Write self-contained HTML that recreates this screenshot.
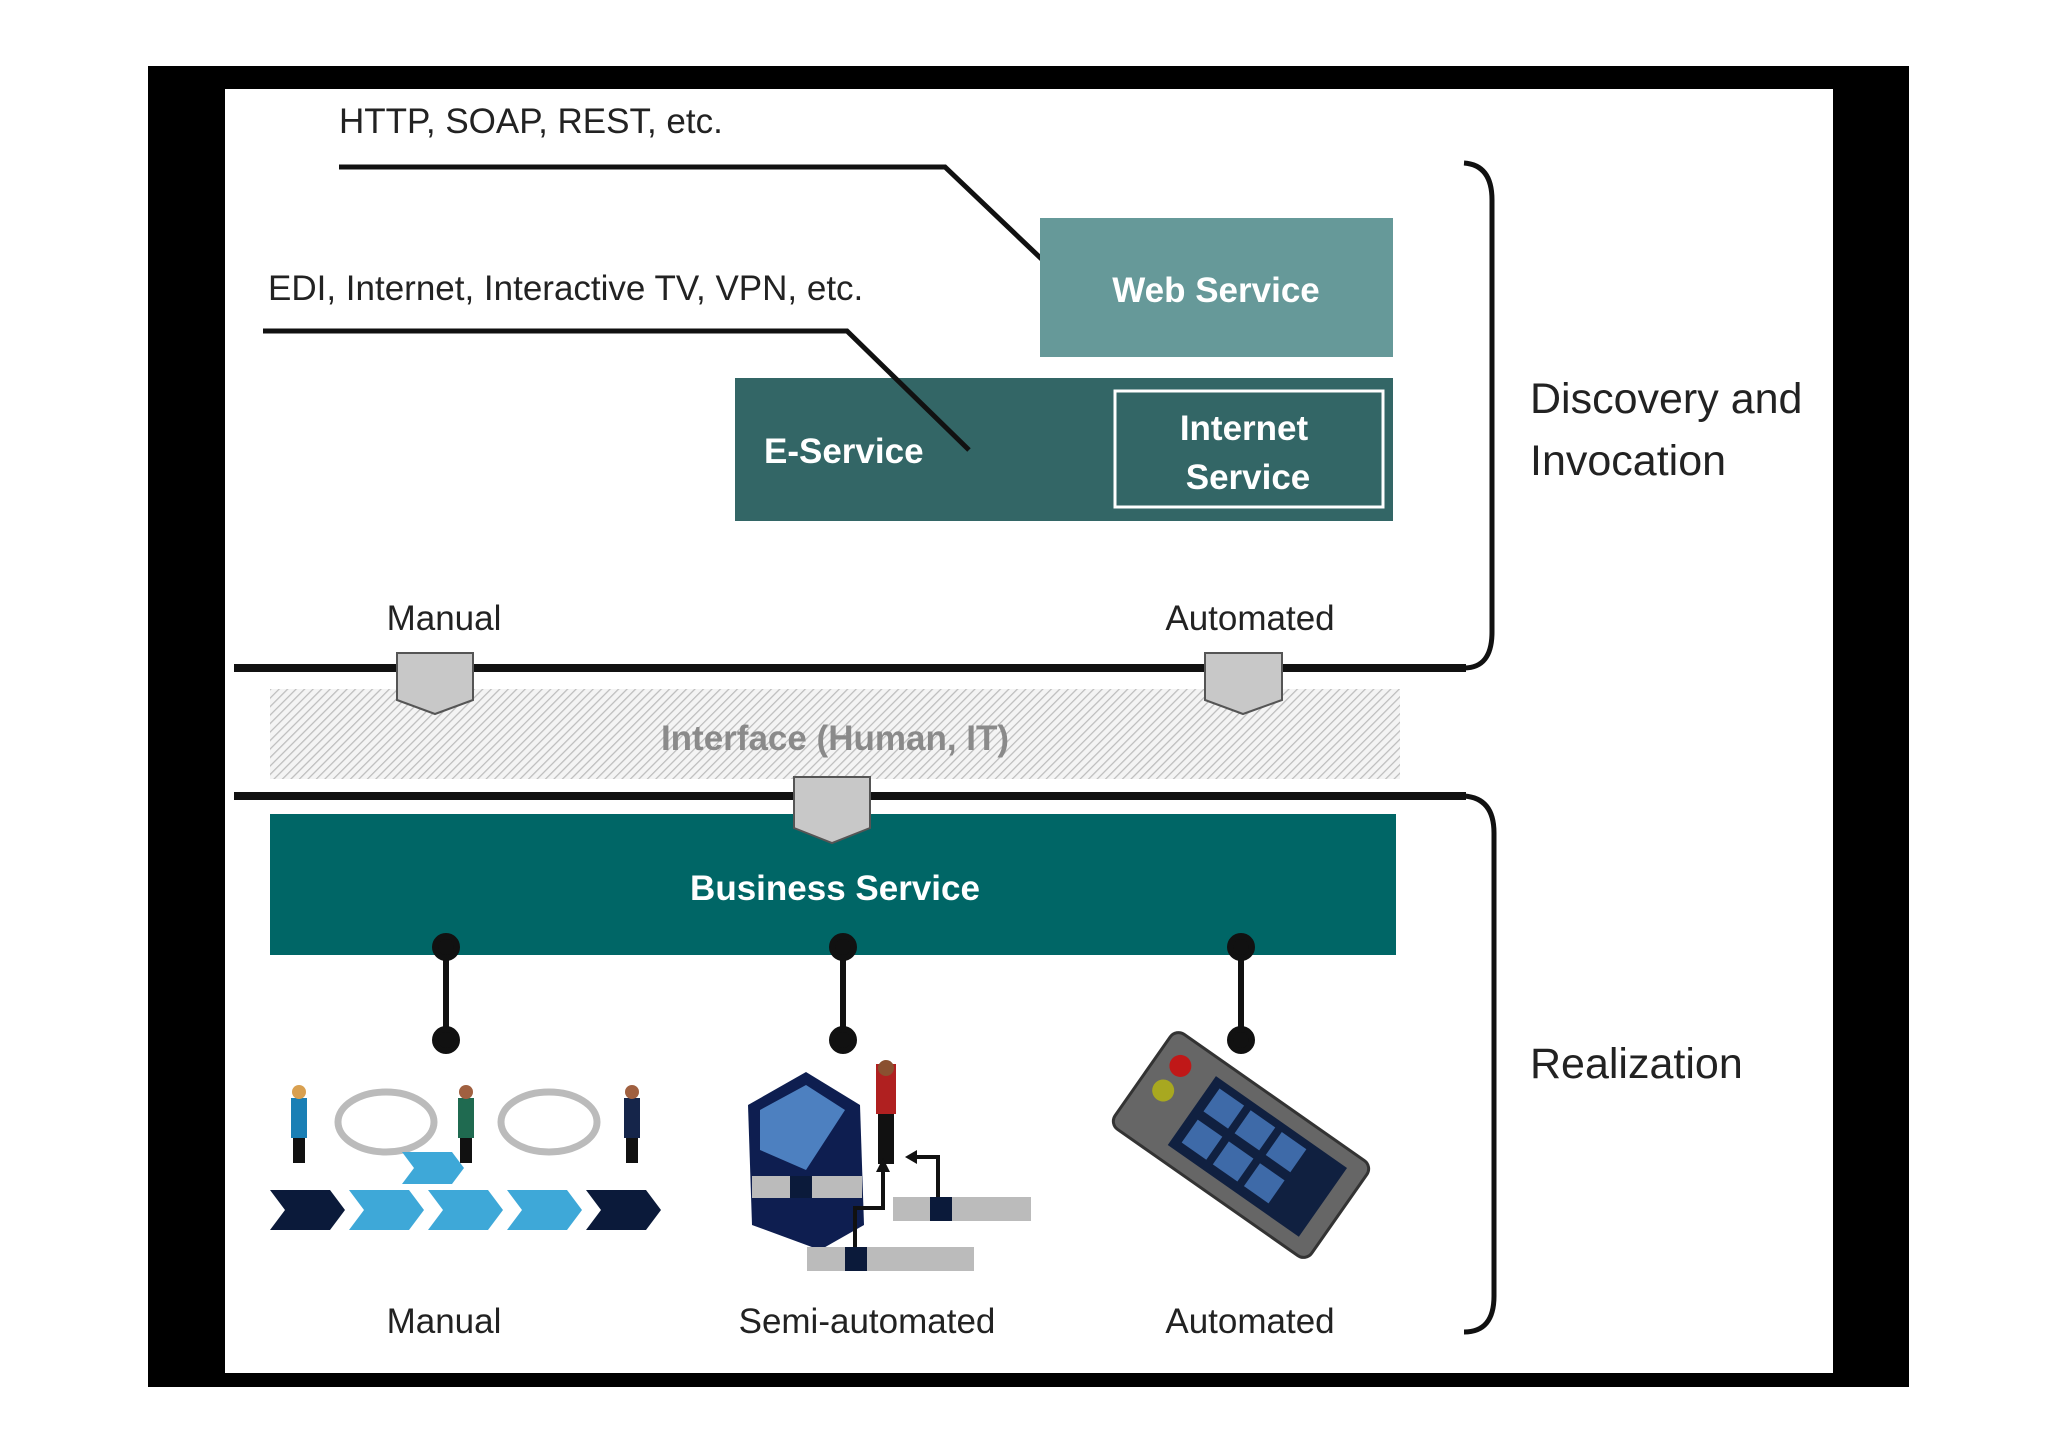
<!DOCTYPE html>
<html><head><meta charset="utf-8"><style>
html,body{margin:0;padding:0;background:#fff}
svg{display:block}
text{font-family:"Liberation Sans",sans-serif}
</style></head><body>
<svg width="2048" height="1447" viewBox="0 0 2048 1447" xmlns="http://www.w3.org/2000/svg">
<defs>
<pattern id="hatch" width="6" height="6" patternUnits="userSpaceOnUse" patternTransform="rotate(45)">
<rect width="6" height="6" fill="#f4f4f4"/>
<line x1="0" y1="0" x2="0" y2="6" stroke="#bdbdbd" stroke-width="2.5"/>
</pattern>
</defs>
<rect x="0" y="0" width="2048" height="1447" fill="#fff"/>
<rect x="148" y="66" width="1761" height="1321" fill="#000"/>
<rect x="225" y="89" width="1608" height="1284" fill="#fff"/>

<!-- top labels and lines -->
<text x="339" y="133" font-size="35" fill="#222">HTTP, SOAP, REST, etc.</text>
<polyline points="339,167 945,167 1072,288" fill="none" stroke="#111" stroke-width="5"/>
<rect x="1040" y="218" width="353" height="139" fill="#669999"/>
<text x="1216" y="302" font-size="35" font-weight="bold" fill="#fff" text-anchor="middle">Web Service</text>

<text x="268" y="300" font-size="35" fill="#222">EDI, Internet, Interactive TV, VPN, etc.</text>
<rect x="735" y="378" width="658" height="143" fill="#336666"/>
<polyline points="263,331 847,331 969,450" fill="none" stroke="#111" stroke-width="5"/>
<rect x="1115" y="391" width="268" height="116" fill="none" stroke="#fff" stroke-width="3"/>
<text x="764" y="463" font-size="35" font-weight="bold" fill="#fff">E-Service</text>
<text x="1244" y="440" font-size="35" font-weight="bold" fill="#fff" text-anchor="middle">Internet</text>
<text x="1248" y="489" font-size="35" font-weight="bold" fill="#fff" text-anchor="middle">Service</text>

<!-- right brackets -->
<path d="M1464,163 Q1492,165 1492,200 L1492,632 Q1492,668 1464,668" fill="none" stroke="#111" stroke-width="5"/>
<path d="M1464,796 Q1494,798 1494,833 L1494,1296 Q1494,1332 1464,1332" fill="none" stroke="#111" stroke-width="5"/>
<text x="1530" y="413" font-size="43" fill="#222">Discovery and</text>
<text x="1530" y="475" font-size="43" fill="#222">Invocation</text>
<text x="1530" y="1078" font-size="43" fill="#222">Realization</text>

<!-- Manual/Automated labels -->
<text x="444" y="630" font-size="35" fill="#222" text-anchor="middle">Manual</text>
<text x="1250" y="630" font-size="35" fill="#222" text-anchor="middle">Automated</text>

<!-- hatched interface -->
<rect x="270" y="689" width="1130" height="90" fill="url(#hatch)"/>
<text x="835" y="750" font-size="35" font-weight="bold" fill="#8a8a8a" text-anchor="middle">Interface (Human, IT)</text>

<line x1="234" y1="668" x2="1466" y2="668" stroke="#111" stroke-width="8"/>
<line x1="234" y1="796" x2="1466" y2="796" stroke="#111" stroke-width="8"/>

<rect x="270" y="814" width="1126" height="141" fill="#006666"/>
<text x="835" y="900" font-size="35" font-weight="bold" fill="#fff" text-anchor="middle">Business Service</text>

<!-- pentagons -->
<g fill="#c8c8c8" stroke="#555" stroke-width="2">
<polygon points="397,653 473,653 473,700 435,714 397,700"/>
<polygon points="1205,653 1282,653 1282,700 1243,714 1205,700"/>
<polygon points="794,777 870,777 870,828 832,843 794,828"/>
</g>

<!-- connectors -->
<g stroke="#111" stroke-width="6" fill="#111">
<line x1="446" y1="945" x2="446" y2="1040"/>
<line x1="843" y1="945" x2="843" y2="1040"/>
<line x1="1241" y1="945" x2="1241" y2="1040"/>
<circle cx="446" cy="947" r="11"/><circle cx="446" cy="1040" r="11"/>
<circle cx="843" cy="947" r="11"/><circle cx="843" cy="1040" r="11"/>
<circle cx="1241" cy="947" r="11"/><circle cx="1241" cy="1040" r="11"/>
</g>

<!-- manual icon -->
<g>
<ellipse cx="386" cy="1122" rx="48" ry="30" fill="none" stroke="#bbb" stroke-width="7"/>
<ellipse cx="549" cy="1122" rx="48" ry="30" fill="none" stroke="#bbb" stroke-width="7"/>
<g fill="#1a7fb5"><rect x="291" y="1098" width="16" height="40"/><circle cx="299" cy="1092" r="7" fill="#d9a050"/><rect x="293" y="1138" width="12" height="25" fill="#111"/></g>
<g><rect x="458" y="1098" width="16" height="40" fill="#1f6a50"/><circle cx="466" cy="1092" r="7" fill="#a06040"/><rect x="460" y="1138" width="12" height="25" fill="#111"/></g>
<g><rect x="624" y="1098" width="16" height="40" fill="#15254a"/><circle cx="632" cy="1092" r="7" fill="#a06040"/><rect x="626" y="1138" width="12" height="25" fill="#111"/></g>
<polygon points="402,1152 452,1152 464,1168 452,1184 402,1184 414,1168" fill="#3ea8d8"/>
<g>
<polygon points="270,1190 330,1190 345,1210 330,1230 270,1230 285,1210" fill="#0b1a3a"/>
<polygon points="349,1190 409,1190 424,1210 409,1230 349,1230 364,1210" fill="#3ea8d8"/>
<polygon points="428,1190 488,1190 503,1210 488,1230 428,1230 443,1210" fill="#3ea8d8"/>
<polygon points="507,1190 567,1190 582,1210 567,1230 507,1230 522,1210" fill="#3ea8d8"/>
<polygon points="586,1190 646,1190 661,1210 646,1230 586,1230 601,1210" fill="#0b1a3a"/>
</g>
</g>

<!-- semi-automated icon -->
<g>
<polygon points="806,1072 860,1105 864,1225 820,1250 752,1225 748,1105" fill="#0e1e50"/>
<polygon points="760,1110 806,1085 845,1110 806,1170 760,1150" fill="#4d80c0"/>
<rect x="752" y="1176" width="110" height="22" fill="#bbb"/>
<rect x="790" y="1176" width="22" height="22" fill="#0b1a3a"/>
<rect x="876" y="1064" width="20" height="50" fill="#b02020"/>
<circle cx="886" cy="1068" r="8" fill="#8a5030"/>
<rect x="878" y="1114" width="16" height="50" fill="#111"/>
<polyline points="855,1250 855,1208 883,1208 883,1170" fill="none" stroke="#111" stroke-width="4"/>
<polygon points="876,1172 890,1172 883,1158" fill="#111"/>
<polyline points="938,1197 938,1157 915,1157" fill="none" stroke="#111" stroke-width="4"/>
<polygon points="917,1150 917,1164 905,1157" fill="#111"/>
<rect x="893" y="1197" width="138" height="24" fill="#bbb"/>
<rect x="930" y="1197" width="22" height="24" fill="#0b1a3a"/>
<rect x="807" y="1247" width="167" height="24" fill="#bbb"/>
<rect x="845" y="1247" width="22" height="24" fill="#0b1a3a"/>
</g>

<!-- automated device -->
<g transform="translate(1241,1145) rotate(35)">
<rect x="-120" y="-58" width="240" height="116" rx="10" fill="#666" stroke="#333" stroke-width="3"/>
<rect x="-60" y="-42" width="160" height="84" fill="#102040"/>
<g fill="#3e6aa8">
<rect x="-50" y="-34" width="30" height="28"/><rect x="-12" y="-34" width="30" height="28"/><rect x="26" y="-34" width="30" height="28"/>
<rect x="-50" y="4" width="30" height="28"/><rect x="-12" y="4" width="30" height="28"/><rect x="26" y="4" width="30" height="28"/>
</g>
<circle cx="-95" cy="-30" r="11" fill="#c01818"/>
<circle cx="-95" cy="0" r="11" fill="#a8a820"/>
</g>

<!-- bottom labels -->
<text x="444" y="1333" font-size="35" fill="#222" text-anchor="middle">Manual</text>
<text x="867" y="1333" font-size="35" fill="#222" text-anchor="middle">Semi-automated</text>
<text x="1250" y="1333" font-size="35" fill="#222" text-anchor="middle">Automated</text>
</svg>
</body></html>
